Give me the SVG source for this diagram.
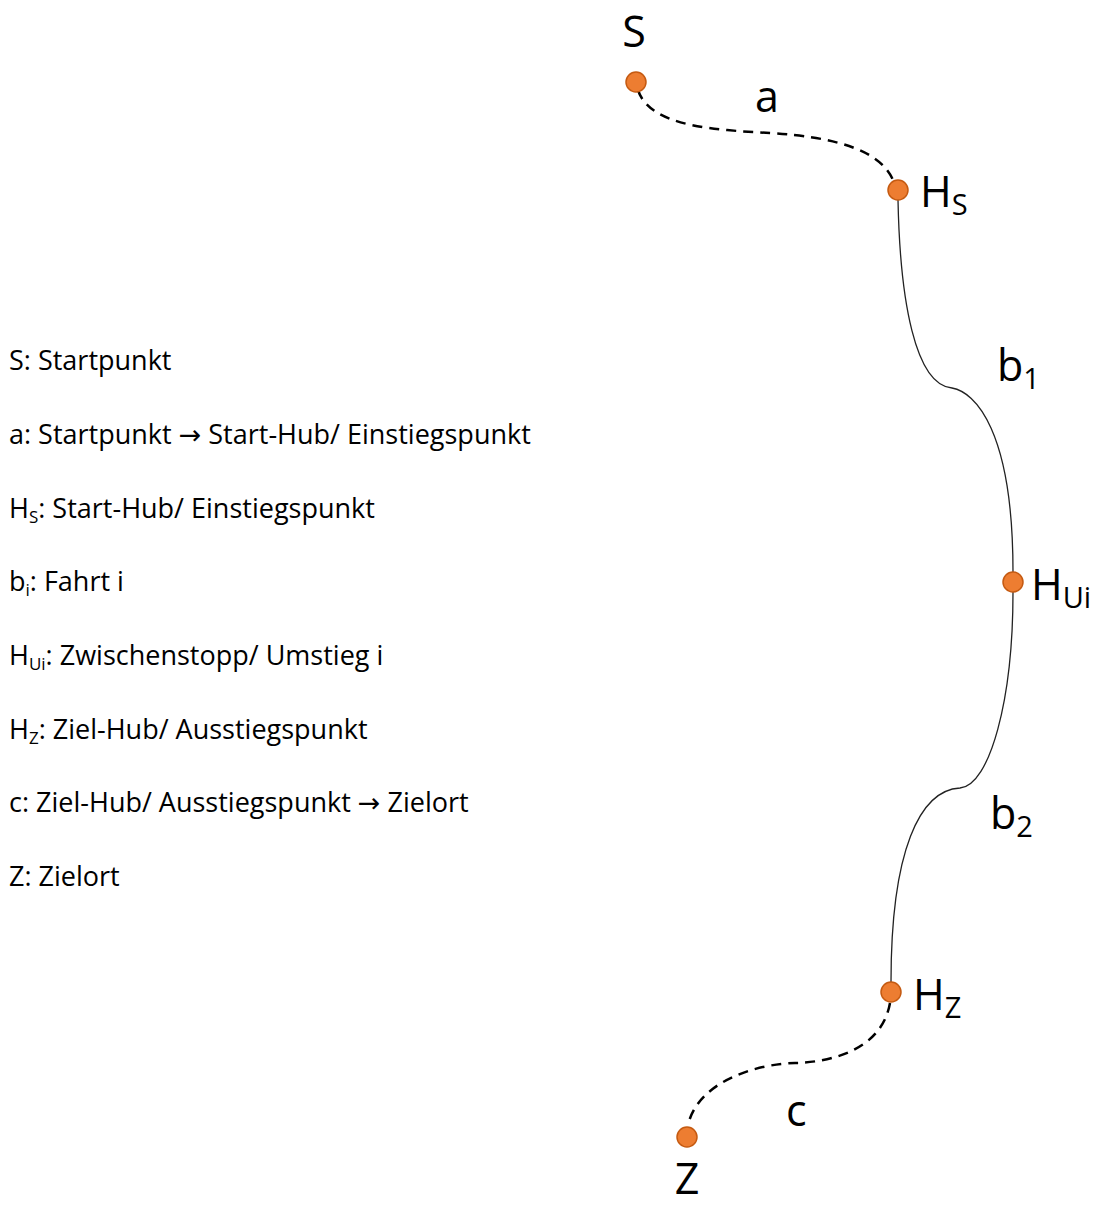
<svg xmlns="http://www.w3.org/2000/svg" width="1103" height="1207" viewBox="0 0 1103 1207">
<style>
.node{fill:#ED7D31;stroke:#C55A11;stroke-width:1.5}
.lbl{font-family:"Open Sans","Liberation Sans",sans-serif;font-size:43px;fill:#000}
.sub{font-size:29px}
.leg{font-family:"Open Sans","Liberation Sans",sans-serif;font-size:27px;fill:#000}
.lsub{font-size:17px}
.arr{font-family:"DejaVu Sans",sans-serif}
.dash{fill:none;stroke:#000;stroke-width:2.5;stroke-dasharray:10 7}
.solid{fill:none;stroke:#222;stroke-width:1.3}
</style>
<rect width="1103" height="1207" fill="#fff"/>
<g id="connectors">
<path id="edge-a" class="dash" d="M638,90 C650,128 720,130 770,133 C835,137 880,150 893,180"/>
<path id="edge-b1" class="solid" d="M898,200 C900,300 915,385 952,388 C975,392 1013,430 1013,572"/>
<path id="edge-b2" class="solid" d="M1013,592 C1013,700 990,785 960,788 C920,790 891,850 891,982"/>
<path id="edge-c" class="dash" d="M890,1003 C882,1048 835,1062 795,1063 C755,1064 698,1082 688,1125"/>
</g>
<g id="edge-labels">
<text class="lbl" x="755" y="112">a</text>
<text class="lbl" x="997" y="381">b<tspan class="sub" dy="8">1</tspan></text>
<text class="lbl" x="990" y="829">b<tspan class="sub" dy="8">2</tspan></text>
<text class="lbl" x="786" y="1126">c</text>
</g>
<g id="node-S"><circle class="node" cx="636" cy="82" r="10"/><text class="lbl" x="634" y="47" text-anchor="middle">S</text></g>
<g id="node-HS"><circle class="node" cx="898" cy="190" r="10"/><text class="lbl" x="920" y="207">H<tspan class="sub" dy="8">S</tspan></text></g>
<g id="node-HUi"><circle class="node" cx="1013" cy="582" r="10"/><text class="lbl" x="1031" y="600">H<tspan class="sub" dy="8">Ui</tspan></text></g>
<g id="node-HZ"><circle class="node" cx="891" cy="992" r="10"/><text class="lbl" x="913" y="1010">H<tspan class="sub" dy="8">Z</tspan></text></g>
<g id="node-Z"><circle class="node" cx="687" cy="1137" r="10"/><text class="lbl" x="687" y="1194" text-anchor="middle">Z</text></g>
<g id="legend">
<text class="leg" x="9" y="370">S: Startpunkt</text>
<text class="leg" x="9" y="444">a: Startpunkt <tspan class="arr">→</tspan> Start-Hub/ Einstiegspunkt</text>
<text class="leg" x="9" y="518">H<tspan class="lsub" dy="5">S</tspan><tspan dy="-5">: Start-Hub/ Einstiegspunkt</tspan></text>
<text class="leg" x="9" y="591">b<tspan class="lsub" dy="5">i</tspan><tspan dy="-5">: Fahrt i</tspan></text>
<text class="leg" x="9" y="665">H<tspan class="lsub" dy="5">Ui</tspan><tspan dy="-5">: Zwischenstopp/ Umstieg i</tspan></text>
<text class="leg" x="9" y="739">H<tspan class="lsub" dy="5">Z</tspan><tspan dy="-5">: Ziel-Hub/ Ausstiegspunkt</tspan></text>
<text class="leg" x="9" y="812">c: Ziel-Hub/ Ausstiegspunkt <tspan class="arr">→</tspan> Zielort</text>
<text class="leg" x="9" y="886">Z: Zielort</text>
</g>
</svg>
